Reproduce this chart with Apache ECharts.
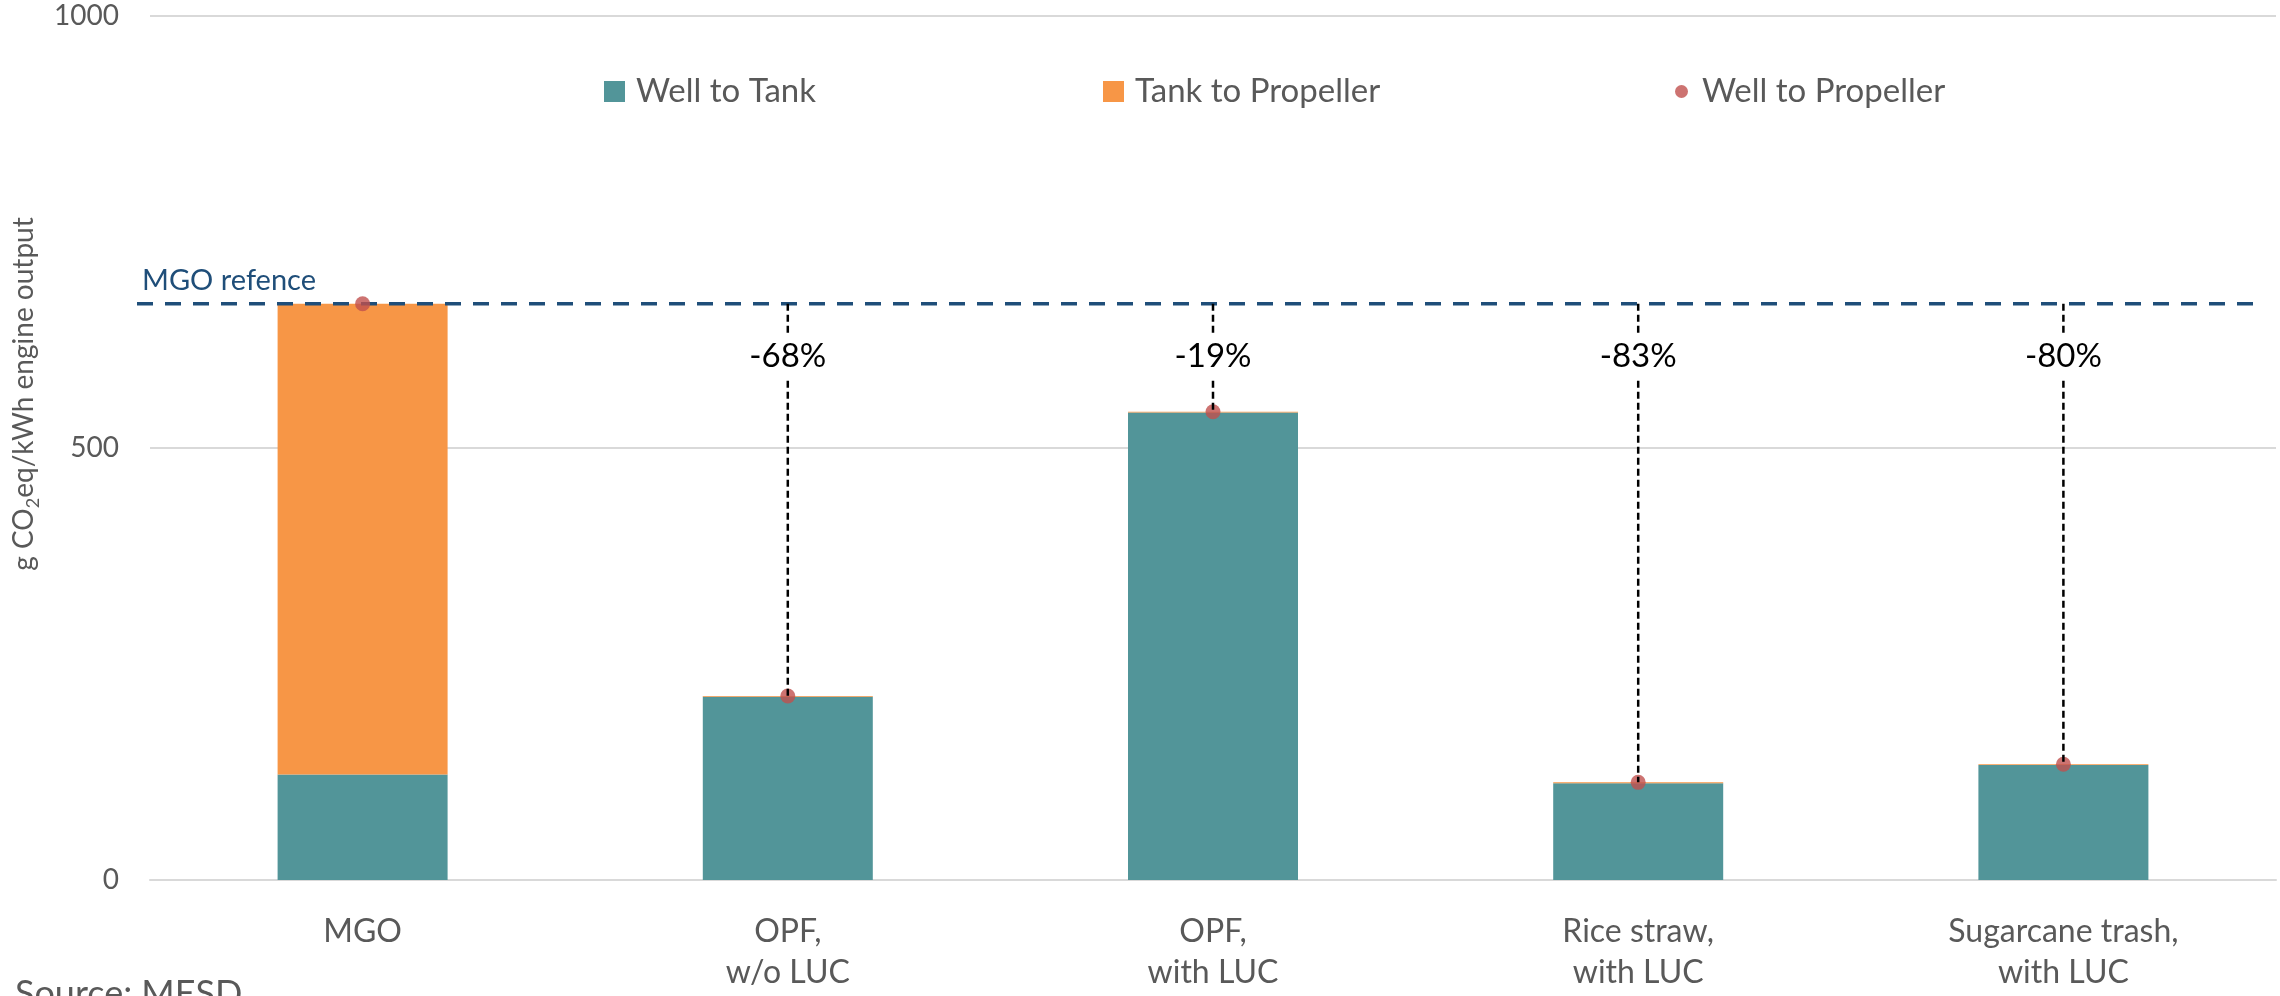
<!DOCTYPE html>
<html>
<head>
<meta charset="utf-8">
<title>Well to Propeller emissions</title>
<script src="https://cdn.jsdelivr.net/npm/echarts@6/dist/echarts.min.js"></script>
<style>
  html, body { margin: 0; padding: 0; background: #ffffff; }
  #chart { width: 2280px; height: 996px; }
</style>
</head>
<body>
<div id="chart"></div>
<script>
// Fuel pathways shown on the category axis
const categories = ['MGO', 'OPF,\nw/o LUC', 'OPF,\nwith LUC', 'Rice straw,\nwith LUC', 'Sugarcane trash,\nwith LUC'];
// g CO2eq/kWh engine output
const wellToTank = [122, 212, 541, 112, 133];
const tankToPropeller = [545, 1, 1, 1, 1];
const wellToPropeller = [667, 213, 542, 113, 134];
// Value axis ticks
const yTicks = [0, 500, 1000];

const FONT = 'Lato';
const GREY = '#595959';
const refValue = wellToPropeller[0];

// Reduction versus the MGO reference, one entry per alternative fuel
const reductionData = wellToPropeller.slice(1).map(function (v, k) {
  const pct = Math.round((v / refValue - 1) * 100);
  return [k + 1, v, pct + '%'];
});

const chart = echarts.init(document.getElementById('chart'), null, { renderer: 'canvas' });

function legendFor(name, icon, left, size, padLeft) {
  return {
    data: [{ name: name, icon: icon }],
    left: left,
    top: 70,
    itemWidth: size,
    itemHeight: size,
    selectedMode: false,
    textStyle: { fontFamily: FONT, fontSize: 33, color: GREY, padding: [0, 0, 0, padLeft] }
  };
}

const option = {
  backgroundColor: '#ffffff',
  animation: false,
  textStyle: { fontFamily: FONT },
  grid: { left: 150, right: 4, top: 16, bottom: 116, containLabel: false, outerBoundsMode: 'none' },
  legend: [
    legendFor('Well to Tank', 'rect', 599, 21, 6),
    legendFor('Tank to Propeller', 'rect', 1098, 21, 6),
    legendFor('Well to Propeller', 'circle', 1670, 13, 9)
  ],
  xAxis: {
    type: 'category',
    data: categories,
    axisLine: { show: true, lineStyle: { color: '#D9D9D9', width: 2 } },
    axisTick: { show: false },
    axisLabel: { interval: 0, margin: 31, fontFamily: FONT, fontSize: 32, lineHeight: 41, color: GREY }
  },
  yAxis: {
    type: 'value',
    min: yTicks[0],
    max: yTicks[yTicks.length - 1],
    interval: yTicks[1] - yTicks[0],
    axisLine: { show: false },
    axisTick: { show: false },
    splitLine: { lineStyle: { color: '#D9D9D9', width: 2 } },
    axisLabel: {
      margin: 31, fontFamily: FONT, fontSize: 28, color: GREY,
      formatter: function (v) { return String(v); }
    },
    name: '{a|g CO}{s|2}{a|eq/kWh engine output}',
    nameLocation: 'middle',
    nameRotate: 90,
    nameGap: 108,
    nameTextStyle: {
      padding: [0, 0, 0, 108],
      rich: {
        a: { fontFamily: FONT, fontSize: 28, color: GREY, lineHeight: 36, verticalAlign: 'middle' },
        s: { fontFamily: FONT, fontSize: 18, color: GREY, lineHeight: 36, verticalAlign: 'bottom' }
      }
    }
  },
  graphic: [{
    type: 'text',
    left: 15,
    top: 976,
    style: { text: 'Source: MESD', font: '36px ' + FONT, fill: GREY }
  }],
  series: [
    {
      name: 'Well to Tank',
      type: 'bar',
      stack: 'wtp',
      barWidth: 170,
      itemStyle: { color: '#529599' },
      data: wellToTank,
      z: 2
    },
    {
      name: 'Tank to Propeller',
      type: 'bar',
      stack: 'wtp',
      barWidth: 170,
      itemStyle: { color: '#F79646' },
      data: tankToPropeller,
      z: 2
    },
    {
      // MGO reference line with its caption
      name: 'MGO reference',
      type: 'custom',
      data: [[0, refValue]],
      z: 3,
      silent: true,
      renderItem: function (params, api) {
        const cs = params.coordSys;
        const y = api.coord([0, api.value(1)])[1];
        return {
          type: 'group',
          children: [
            {
              type: 'line',
              shape: { x1: cs.x - 13, y1: y, x2: cs.x + cs.width - 22, y2: y },
              style: { stroke: '#1F4E79', lineWidth: 3.5, lineDash: [16, 12] }
            },
            {
              type: 'text',
              style: {
                text: 'MGO refence', x: cs.x - 8, y: y - 23,
                align: 'left', verticalAlign: 'middle',
                font: '29px ' + FONT, fill: '#1F4E79'
              }
            }
          ]
        };
      }
    },
    {
      name: 'Well to Propeller',
      type: 'scatter',
      symbol: 'circle',
      symbolSize: 15,
      itemStyle: { color: '#C0504D' },
      data: wellToPropeller,
      z: 4
    },
    {
      // Drop lines from the reference down to each fuel, with the reduction label
      name: 'Reduction',
      type: 'custom',
      data: reductionData,
      z: 5,
      silent: true,
      renderItem: function (params, api) {
        const top = api.coord([api.value(0), refValue]);
        const bottom = api.coord([api.value(0), api.value(1)]);
        const label = reductionData[params.dataIndex][2];
        return {
          type: 'group',
          children: [
            {
              type: 'line',
              shape: { x1: top[0], y1: top[1], x2: bottom[0], y2: bottom[1] },
              style: { stroke: '#000000', lineWidth: 2.5, lineDash: [7, 4] }
            },
            {
              type: 'text',
              style: {
                text: label, x: top[0], y: top[1] + 53,
                align: 'center', verticalAlign: 'middle',
                font: '33px ' + FONT, fill: '#000000',
                backgroundColor: '#ffffff', padding: [6, 8]
              }
            }
          ]
        };
      }
    }
  ]
};

chart.setOption(option);
</script>
</body>
</html>
